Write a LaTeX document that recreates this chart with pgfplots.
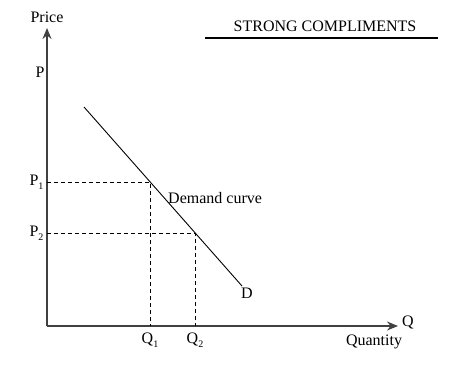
\documentclass[border=0pt]{standalone}
\usepackage{pgfplots}
\pgfplotsset{compat=1.18}
\usepackage{fontspec}
\setmainfont{Liberation Serif}
\usetikzlibrary{arrows.meta}
\newcommand\sub[1]{\raisebox{-0.6ex}{\fontsize{10}{10}\selectfont #1}}
\newcommand\lab[2]{\mbox{\fontsize{16}{19}\selectfont #1\sub{#2}}}
\begin{document}
\begin{tikzpicture}
\begin{axis}[
  x=1pt, y=1pt,
  xmin=0, xmax=351, ymin=0, ymax=298,
  axis lines=left,
  axis line style={line width=1.6pt, draw=black!75, -{Stealth[length=11pt,width=9pt]}},
  clip=false,
  major tick length=0pt,
  font=\fontsize{16}{19}\selectfont,
  tick label style={font=\fontsize{16}{19}\selectfont},
  xtick={103,148},
  xticklabels={\lab{Q}{1}, \lab{Q}{2}},
  ytick={93,144},
  yticklabels={\lab{P}{2}, \lab{P}{1}},
  xticklabel style={yshift=-3pt},
  yticklabel style={xshift=0pt},
]
\addplot[black, line width=0.9pt, no marks] coordinates {(37,219) (195,40)};
\addplot[black, line width=0.9pt, dash pattern=on 4pt off 3pt, no marks] coordinates {(0,144) (103,144) (103,0)};
\addplot[black, line width=0.9pt, dash pattern=on 4pt off 3pt, no marks] coordinates {(0,93) (148,93) (148,0)};
\node at (axis cs:0,309) {Price};
\node at (axis cs:-7,254) {P};
\node[anchor=west, inner sep=0pt] at (axis cs:121,128) {Demand curve};
\node at (axis cs:200,33) {D};
\node at (axis cs:361,4) {Q};
\node at (axis cs:327,-16) {Quantity};
\node at (axis cs:278,300) {STRONG COMPLIMENTS};
\draw[black, line width=1.4pt] (axis cs:158,288) -- (axis cs:391,288);
\end{axis}
\pgfresetboundingbox
\path[use as bounding box] (-47pt,-47pt) rectangle (403pt,326pt);
\end{tikzpicture}
\end{document}
